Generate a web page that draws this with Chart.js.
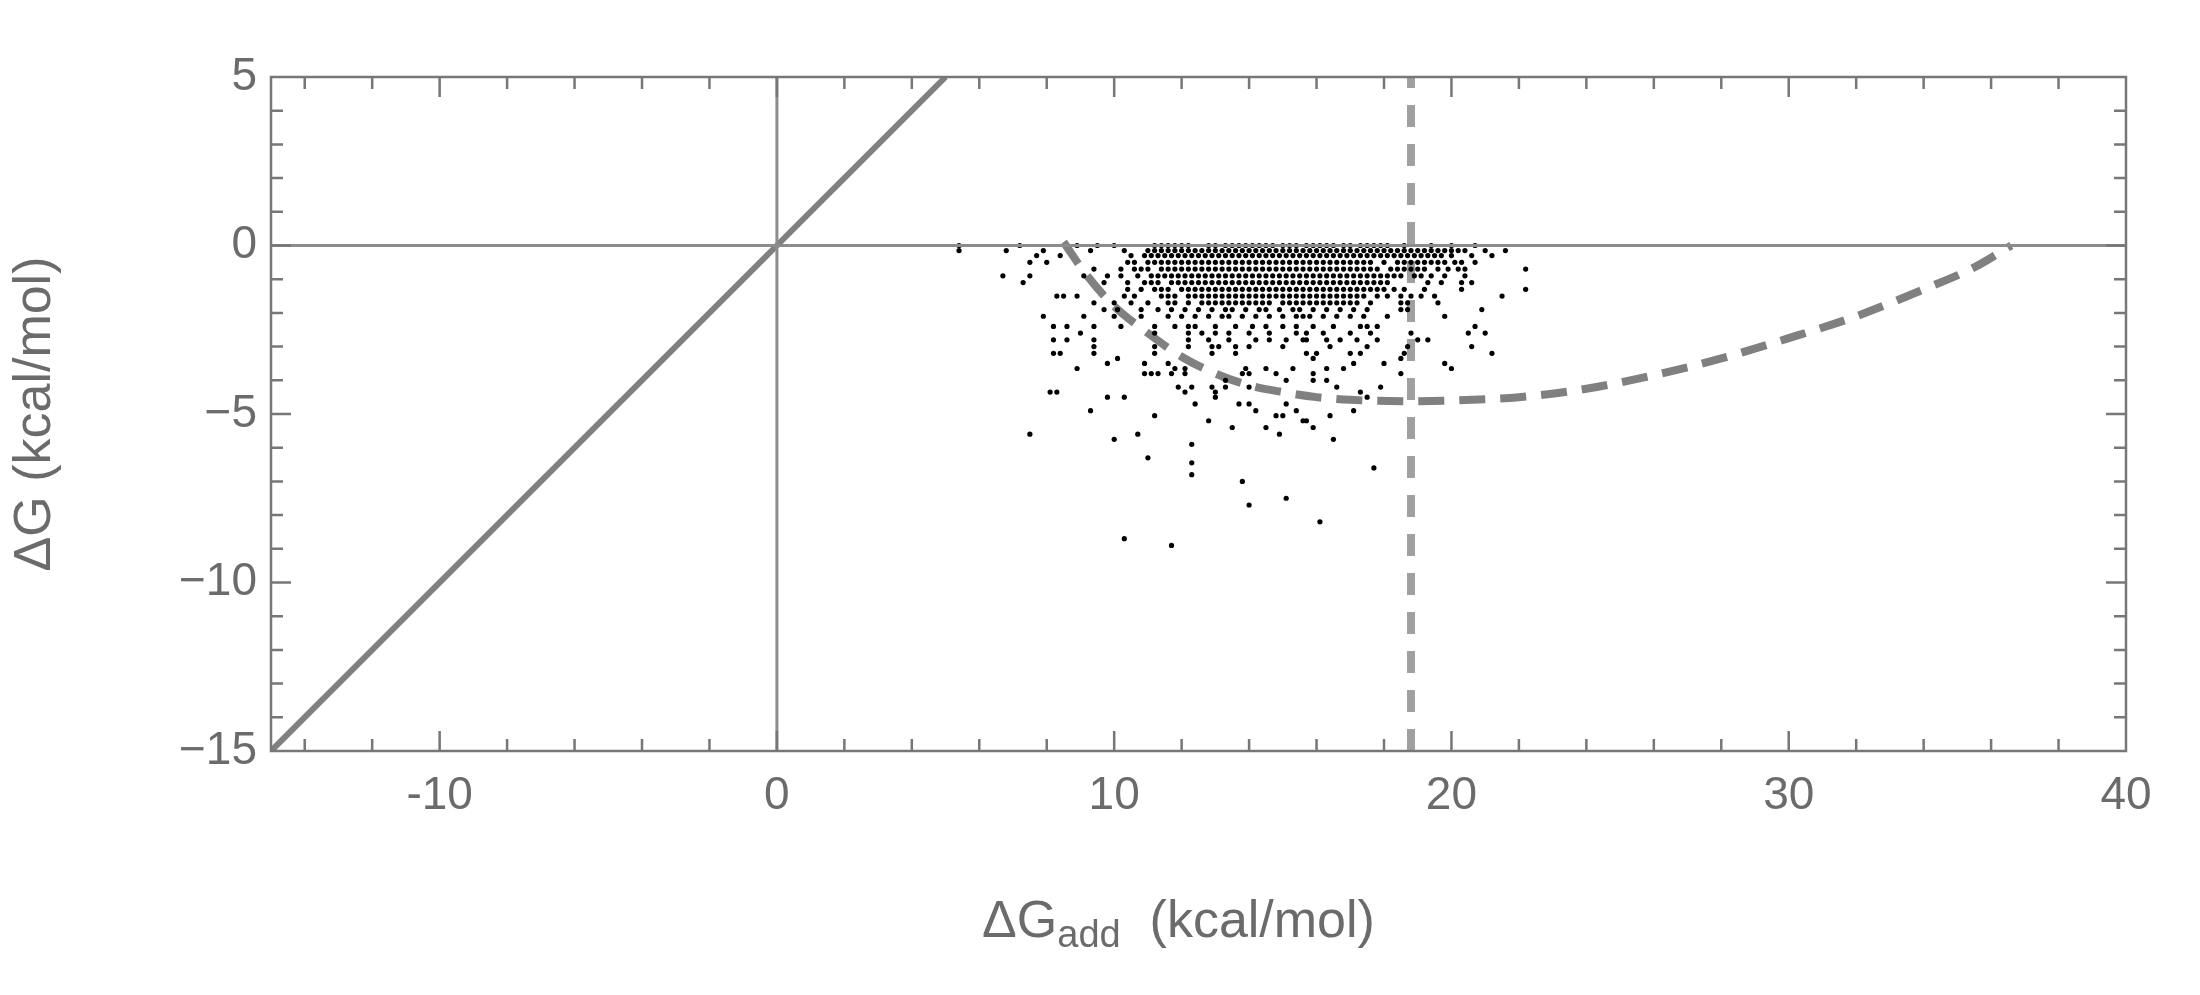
<!DOCTYPE html>
<html>
<head>
<meta charset="utf-8">
<script src="https://cdn.jsdelivr.net/npm/chart.js@4.4.1/dist/chart.umd.min.js"></script>
<style>
  html, body { margin: 0; padding: 0; background: #fff; }
  #wrap { width: 2200px; height: 995px; }
</style>
</head>
<body>
<div id="wrap"><canvas id="chart"></canvas></div>
<script>
// axis ticks
const xTickValues = [-10, 0, 10, 20, 30, 40];
const yTickValues = [5, 0, -5, -10, -15];
const xMinorTicks = [-14, -12, -10, -8, -6, -4, -2, 0, 2, 4, 6, 8, 10, 12, 14, 16, 18, 20, 22, 24, 26, 28, 30, 32, 34, 36, 38];
const yMinorTicks = [4, 3, 2, 1, 0, -1, -2, -3, -4, -5, -6, -7, -8, -9, -10, -11, -12, -13, -14];

// reference lines
const diagonalX = [-15, 5];
const dashedVerticalX = 18.8;
const curveX = [8.5, 9.2, 10, 11, 12, 13, 14, 15, 16, 17, 18.8, 20, 22, 24, 26, 28, 30, 32, 34, 35.5, 36.6];
const curveY = [0.1, -0.9, -1.8, -2.6, -3.3, -3.8, -4.15, -4.35, -4.5, -4.58, -4.62, -4.6, -4.5, -4.25, -3.85, -3.35, -2.75, -2.1, -1.3, -0.65, 0];

// scatter data, grouped into rows of equal ΔG
const rowY = [0, -0.15, -0.3, -0.5, -0.7, -0.9, -1.1, -1.3, -1.5, -1.7, -1.9, -2.1, -2.4, -2.6, -2.8, -3.0, -3.2, -3.35, -3.5, -3.65, -3.8, -4.0, -4.2, -4.35, -4.5, -4.7, -4.9, -5.05, -5.2, -5.4, -5.6, -5.75, -5.9, -6.3, -6.45, -6.6, -6.8, -7.0, -7.5, -7.7, -8.2, -8.7, -8.9];
const rowX = [
  [5.4,7.2,8.9,9.5,10.0,11.2,11.4,11.6,11.8,12.0,12.2,12.8,13.0,13.3,13.5,13.7,13.9,14.1,14.3,14.5,14.7,15.0,15.2,15.4,15.7,15.9,16.1,16.3,16.5,16.8,17.0,17.3,17.5,17.7,17.9,18.1,18.6,19.4,20.0,20.7],
  [5.4,6.8,7.9,9.3,10.3,11.0,11.2,11.4,11.6,11.8,12.0,12.2,12.4,12.6,12.8,13.0,13.2,13.4,13.6,13.8,14.0,14.2,14.4,14.6,14.8,15.0,15.2,15.4,15.6,15.8,16.0,16.2,16.4,16.6,16.8,17.0,17.2,17.4,17.6,17.8,18.0,18.2,18.4,18.6,18.8,19.0,19.2,19.4,19.6,19.8,20.0,20.2,20.4,21.0,21.6],
  [7.7,8.4,10.5,10.9,11.1,11.3,11.5,11.7,11.9,12.1,12.3,12.5,12.7,12.9,13.1,13.3,13.5,13.7,13.9,14.1,14.3,14.5,14.7,14.9,15.1,15.3,15.5,15.7,15.9,16.1,16.3,16.5,16.7,16.9,17.1,17.3,17.5,17.7,17.9,18.1,18.3,18.5,18.7,18.9,19.1,19.3,19.5,19.7,20.0,20.6,21.2],
  [7.5,8.0,10.4,10.6,11.0,11.2,11.4,11.6,11.8,12.0,12.2,12.4,12.6,12.8,13.0,13.2,13.4,13.6,13.8,14.0,14.2,14.4,14.6,14.8,15.0,15.2,15.4,15.6,15.8,16.0,16.2,16.4,16.6,16.8,17.0,17.2,17.4,17.6,18.0,18.4,18.6,18.8,19.0,19.2,19.4,19.6,19.8,20.1,20.3,20.7],
  [9.4,10.2,10.6,10.8,11.0,11.4,11.6,11.8,12.0,12.2,12.4,12.6,12.8,13.0,13.2,13.4,13.6,13.8,14.0,14.2,14.4,14.6,14.8,15.0,15.2,15.4,15.6,15.8,16.0,16.2,16.4,16.6,16.8,17.0,17.2,17.4,17.6,17.8,18.2,18.4,18.6,18.8,19.0,19.2,19.6,19.9,20.2,20.4,22.2],
  [6.7,7.5,9.1,9.8,10.2,10.7,11.1,11.3,11.5,11.7,11.9,12.1,12.3,12.5,12.7,12.9,13.1,13.3,13.5,13.7,13.9,14.1,14.3,14.5,14.7,14.9,15.1,15.3,15.5,15.7,15.9,16.1,16.3,16.5,16.7,16.9,17.1,17.3,17.5,17.7,17.9,18.1,18.3,18.5,18.9,19.1,19.4,19.8,20.4],
  [7.3,9.7,10.4,10.9,11.1,11.3,11.7,11.9,12.1,12.3,12.5,12.7,12.9,13.1,13.3,13.5,13.7,13.9,14.1,14.3,14.5,14.7,14.9,15.1,15.3,15.5,15.7,15.9,16.1,16.3,16.5,16.7,16.9,17.1,17.3,17.5,17.7,17.9,18.1,19.3,19.7,20.3,20.6],
  [10.4,10.8,11.2,11.4,11.6,12.0,12.2,12.4,12.6,12.8,13.0,13.2,13.4,13.6,13.8,14.0,14.2,14.4,14.6,14.8,15.0,15.2,15.4,15.6,15.8,16.0,16.2,16.4,16.6,16.8,17.0,17.2,17.4,17.6,17.8,18.0,18.3,18.6,19.2,20.3,22.2],
  [8.3,8.5,8.9,10.3,10.6,11.4,11.6,11.8,12.2,12.4,12.6,12.8,13.0,13.2,13.4,13.6,13.8,14.0,14.2,14.4,14.6,14.8,15.0,15.2,15.4,15.6,15.8,16.0,16.2,16.4,16.6,16.8,17.0,17.2,17.4,17.8,18.1,18.5,18.8,19.1,19.5,21.5],
  [9.4,10.0,10.5,11.0,11.6,11.8,12.2,12.6,12.8,13.0,13.2,13.4,13.6,13.8,14.0,14.2,14.4,14.6,15.0,15.2,15.4,15.6,15.8,16.0,16.2,16.4,16.6,16.8,17.0,17.2,17.6,18.5,18.7,19.6],
  [9.7,10.1,10.8,11.3,11.7,12.1,12.5,12.9,13.3,13.5,13.9,14.3,14.5,14.9,15.3,15.5,15.9,16.3,16.7,17.1,17.5,18.5,18.7,20.9],
  [7.9,9.1,10.0,10.8,11.6,12.0,12.4,12.8,13.2,13.4,13.8,14.2,14.6,15.0,15.4,15.6,15.8,16.2,16.6,17.0,17.4,18.1,19.8],
  [8.2,8.6,9.4,10.2,11.2,11.8,12.2,12.4,13.0,13.6,14.1,14.5,15.0,15.4,15.9,16.5,17.3,17.5,17.8,20.7],
  [9.0,11.2,12.2,12.6,13.0,13.4,14.0,14.6,15.4,15.7,16.2,17.0,17.6,18.8,20.5,21.0],
  [8.2,8.6,9.4,12.2,12.8,13.4,14.2,14.6,15.1,15.6,15.7,16.3,16.7,17.2,17.8,19.0,19.3],
  [9.4,11.2,12.2,12.9,13.1,13.6,14.0,15.0,16.4,17.5,18.7,20.6],
  [8.2,8.4,9.4,11.2,12.9,13.6,15.7,16.0,17.0,17.3,18.6,21.2],
  [10.1,15.9,18.5],
  [9.8,10.9,11.6,17.1,18.0,19.8],
  [8.9,11.8,12.1,13.9,14.5,15.3,16.3,16.8,20.0],
  [10.9,11.1,11.3,11.7,12.1,13.8,14.0,14.8,15.9,18.5],
  [13.3,15.1,15.9,16.3],
  [11.9,12.3,12.9,13.3,14.0,16.6,17.9],
  [8.1,8.3,12.1,13.0,17.3],
  [9.8,10.3,13.0,17.5],
  [12.4,13.7,14.0,15.1],
  [9.3,14.2,15.4,17.1],
  [11.2,14.8,15.0,16.4],
  [12.8,15.6,15.7],
  [13.5,14.5,15.9],
  [7.5,10.7,14.9],
  [10.0,16.5],
  [12.3],
  [11.0],
  [12.3],
  [17.7],
  [12.3],
  [13.8],
  [15.1],
  [14.0],
  [16.1],
  [10.3],
  [11.7]
];

const scatterPoints = [];
rowY.forEach((y, i) => {
    rowX[i].forEach(x => scatterPoints.push({ x: x, y: y }));
});

const axisGray = '#777777';
const textGray = '#6b6b6b';
const fontFamily = '"Liberation Sans", Arial, sans-serif';

// inward ticks and the x axis title with its subscript
const framePlugin = {
    id: 'frame',
    afterDraw(chart) {
        const ctx = chart.ctx;
        const area = chart.chartArea;
        const xs = chart.scales.x;
        const ys = chart.scales.y;
        ctx.save();
        ctx.strokeStyle = axisGray;
        ctx.lineWidth = 2.5;
        xMinorTicks.forEach(v => {
            const px = xs.getPixelForValue(v);
            const len = xTickValues.includes(v) ? 20 : 12;
            ctx.beginPath();
            ctx.moveTo(px, area.bottom); ctx.lineTo(px, area.bottom - len);
            ctx.moveTo(px, area.top); ctx.lineTo(px, area.top + len);
            ctx.stroke();
        });
        yMinorTicks.forEach(v => {
            const py = ys.getPixelForValue(v);
            const len = yTickValues.includes(v) ? 20 : 12;
            ctx.beginPath();
            ctx.moveTo(area.left, py); ctx.lineTo(area.left + len, py);
            ctx.moveTo(area.right, py); ctx.lineTo(area.right - len, py);
            ctx.stroke();
        });
        ctx.strokeRect(area.left, area.top, area.right - area.left, area.bottom - area.top);

        // x title: ΔG_add (kcal/mol)
        ctx.fillStyle = textGray;
        ctx.textBaseline = 'alphabetic';
        const big = '52px ' + fontFamily;
        const small = '38px ' + fontFamily;
        const parts = [['ΔG', big, 0], ['add', small, 10], ['  (kcal/mol)', big, 0]];
        let total = 0;
        parts.forEach(p => { ctx.font = p[1]; total += ctx.measureText(p[0]).width; });
        let x = (area.left + area.right) / 2 - total / 2 - 20;
        const base = 937;
        parts.forEach(p => {
            ctx.font = p[1];
            ctx.fillText(p[0], x, base + p[2]);
            x += ctx.measureText(p[0]).width;
        });
        ctx.restore();
    }
};

new Chart(document.getElementById('chart'), {
    type: 'scatter',
    data: {
        datasets: [
            {
                type: 'line',
                data: [{ x: 0, y: -15 }, { x: 0, y: 5 }],
                borderColor: '#8c8c8c', borderWidth: 3, pointRadius: 0
            },
            {
                type: 'line',
                data: [{ x: -15, y: 0 }, { x: 40, y: 0 }],
                borderColor: '#8c8c8c', borderWidth: 3, pointRadius: 0
            },
            {
                type: 'line',
                data: diagonalX.map(v => ({ x: v, y: v })),
                borderColor: '#808080', borderWidth: 6, pointRadius: 0
            },
            {
                label: 'data',
                data: scatterPoints,
                backgroundColor: '#000000',
                borderWidth: 0,
                pointRadius: 2.6
            },
            {
                type: 'line',
                data: [{ x: dashedVerticalX, y: -15 }, { x: dashedVerticalX, y: 5 }],
                borderColor: '#a0a0a0', borderWidth: 8, borderDash: [22, 17], pointRadius: 0
            },
            {
                type: 'line',
                data: curveX.map((v, i) => ({ x: v, y: curveY[i] })),
                borderColor: '#808080', borderWidth: 8, borderDash: [26, 15],
                cubicInterpolationMode: 'monotone', pointRadius: 0
            }
        ]
    },
    options: {
        responsive: true,
        maintainAspectRatio: false,
        animation: false,
        layout: { padding: { top: 77, right: 74, left: 0, bottom: 0 } },
        plugins: { legend: { display: false }, tooltip: { enabled: false } },
        scales: {
            x: {
                type: 'linear', min: -15, max: 40,
                afterBuildTicks: s => { s.ticks = xTickValues.map(v => ({ value: v })); },
                afterFit: s => { s.height = 244; },
                grid: { display: false, drawTicks: false },
                border: { display: false },
                ticks: { color: textGray, font: { family: fontFamily, size: 46 }, padding: 18, maxRotation: 0 }
            },
            y: {
                type: 'linear', min: -15, max: 5,
                afterBuildTicks: s => { s.ticks = yTickValues.map(v => ({ value: v })); },
                afterFit: s => { s.width = 271; },
                grid: { display: false, drawTicks: false },
                border: { display: false },
                ticks: {
                    color: textGray, font: { family: fontFamily, size: 46 }, padding: 14,
                    callback: v => (v < 0 ? '\u2212' + Math.abs(v) : String(v))
                },
                title: {
                    display: true, text: 'ΔG (kcal/mol)', color: textGray,
                    font: { family: fontFamily, size: 52 }, padding: { bottom: 30 }
                }
            }
        }
    },
    plugins: [framePlugin]
});
</script>
</body>
</html>
